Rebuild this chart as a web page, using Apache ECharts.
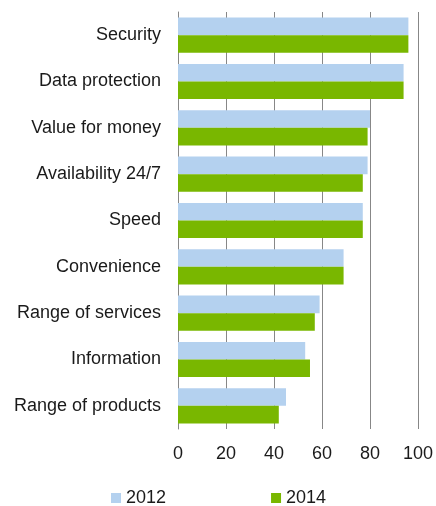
<!DOCTYPE html>
<html>
<head>
<meta charset="utf-8">
<script src="https://cdn.jsdelivr.net/npm/echarts@6/dist/echarts.min.js"></script>
<style>
  html, body { margin: 0; padding: 0; background: #fff; }
  #chart { width: 436px; height: 506px; }
</style>
</head>
<body>
<div id="chart"></div>
<script>
  // categories, top to bottom
  var categories = ['Security', 'Data protection', 'Value for money', 'Availability 24/7',
    'Speed', 'Convenience', 'Range of services', 'Information', 'Range of products']
  var values2012 = [96, 94, 80, 79, 77, 69, 59, 53, 45]
  var values2014 = [96, 94, 79, 77, 77, 69, 57, 55, 42]
  var xTicks = [0, 20, 40, 60, 80, 100]

  var font = '"Liberation Sans", Arial, sans-serif'
  var chart = echarts.init(document.getElementById('chart'))

  chart.setOption({
    animation: false,
    textStyle: { fontFamily: font },
    grid: {
      left: 178,
      right: 16,
      top: 12,
      bottom: 77,
      containLabel: false
    },
    legend: {
      data: ['2012', '2014'],
      left: 106,
      top: 484,
      itemWidth: 10,
      itemHeight: 10,
      itemGap: 105,
      icon: 'rect',
      textStyle: { fontSize: 18, color: '#1a1a1a', fontFamily: font }
    },
    xAxis: {
      type: 'value',
      min: xTicks[0],
      max: xTicks[xTicks.length - 1],
      interval: 20,
      axisLine: { show: false },
      axisTick: { show: false },
      axisLabel: { fontSize: 18, color: '#1a1a1a', margin: 16 },
      splitLine: { lineStyle: { color: '#878787', width: 1 } }
    },
    yAxis: {
      type: 'category',
      data: categories,
      inverse: true,
      axisLine: { show: true, lineStyle: { color: '#878787', width: 1 } },
      axisTick: { show: false },
      axisLabel: { fontSize: 18, color: '#1a1a1a', margin: 17 }
    },
    series: [
      {
        name: '2012',
        type: 'bar',
        data: values2012,
        barGap: '0%',
        barCategoryGap: '24%',
        itemStyle: { color: '#b4d1ef' }
      },
      {
        name: '2014',
        type: 'bar',
        data: values2014,
        barGap: '0%',
        barCategoryGap: '24%',
        itemStyle: { color: '#79b700' }
      }
    ]
  })
</script>
</body>
</html>
